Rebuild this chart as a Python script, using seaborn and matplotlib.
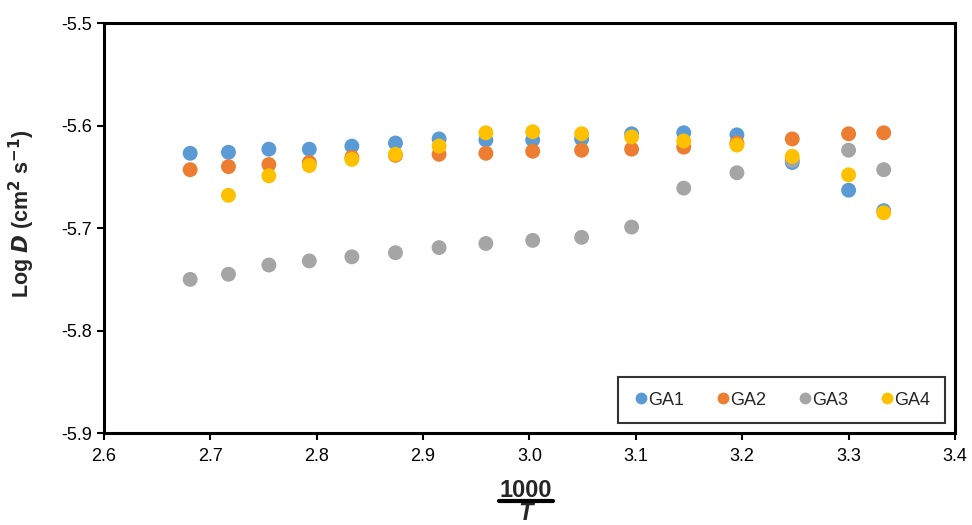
import numpy as np
import pandas as pd
import matplotlib
matplotlib.use("Agg")
import matplotlib.pyplot as plt
import seaborn as sns
from matplotlib.lines import Line2D

# ---- data ----
x_all = [2.681, 2.717, 2.755, 2.793, 2.833, 2.874, 2.915, 2.959, 3.003,
         3.049, 3.096, 3.145, 3.195, 3.247, 3.300, 3.333]
x_ga4 = x_all[1:]

ga1 = [-5.627, -5.626, -5.623, -5.623, -5.620, -5.617, -5.613, -5.614, -5.614,
       -5.613, -5.608, -5.607, -5.609, -5.636, -5.663, -5.683]
ga2 = [-5.643, -5.640, -5.638, -5.636, -5.631, -5.629, -5.628, -5.627, -5.625,
       -5.624, -5.623, -5.621, -5.617, -5.613, -5.608, -5.607]
ga3 = [-5.750, -5.745, -5.736, -5.732, -5.728, -5.724, -5.719, -5.715, -5.712,
       -5.709, -5.699, -5.661, -5.646, -5.634, -5.624, -5.643]
ga4 = [-5.668, -5.649, -5.639, -5.633, -5.628, -5.620, -5.607, -5.606, -5.608,
       -5.611, -5.615, -5.619, -5.630, -5.648, -5.685]

series_names = ["GA1", "GA2", "GA3", "GA4"]
colors = ["#5B9BD5", "#ED7D31", "#A5A5A5", "#FFC000"]
xticks = [2.6, 2.7, 2.8, 2.9, 3.0, 3.1, 3.2, 3.3, 3.4]
yticks = [-5.9, -5.8, -5.7, -5.6, -5.5]

frames = []
for name, xs, ys in zip(series_names, [x_all, x_all, x_all, x_ga4], [ga1, ga2, ga3, ga4]):
    frames.append(pd.DataFrame({"x": xs, "y": ys, "series": name}))
df = pd.concat(frames, ignore_index=True)

sns.set_style("white")
plt.rcParams["font.family"] = ["Liberation Sans", "DejaVu Sans"]

fig = plt.figure(figsize=(9.72, 5.25), dpi=100)
ax = fig.add_axes([0.107, 0.175, 0.8755, 0.781])

sns.scatterplot(data=df, x="x", y="y", hue="series", palette=colors,
                hue_order=series_names, s=115, linewidth=0, ax=ax, legend=False)

ax.set_xlim(2.6, 3.4)
ax.set_ylim(-5.9, -5.5)
ax.set_xticks(xticks)
ax.set_xticklabels([f"{v:.1f}" for v in xticks])
ax.set_yticks(yticks)
ax.set_yticklabels([f"{v:.1f}" for v in yticks])
ax.tick_params(axis="both", direction="out", length=5, width=1.5, color="black",
               labelsize=13, labelcolor="black", bottom=True, left=True)
ax.tick_params(axis="x", pad=6)
for sp in ax.spines.values():
    sp.set_visible(True)
    sp.set_color("black")
    sp.set_linewidth(2.2)

ax.set_xlabel("")
ax.set_ylabel(r"Log $\boldsymbol{D}$ (cm$^{\mathbf{2}}$ s$^{\mathbf{-1}}$)",
              fontsize=15.5, fontweight="bold")
ax.yaxis.set_label_coords(-0.079, 0.534)

# fraction x label
fig.text(526 / 972, 1 - 497 / 525, "1000", ha="center", va="baseline",
         fontsize=17, fontweight="bold")
fig.add_artist(Line2D([499 / 972, 553 / 972], [1 - 500.5 / 525, 1 - 500.5 / 525],
                      color="black", lw=3, transform=fig.transFigure))
fig.text(526 / 972, 1 - 524.5 / 525, "T", ha="center", va="bottom",
         fontsize=17, fontweight="bold", fontstyle="italic")

handles = [Line2D([], [], marker="o", linestyle="", markersize=8.5,
                  markerfacecolor=c, markeredgewidth=0) for c in colors]
leg = ax.legend(handles, series_names, ncol=4, loc="lower right", fontsize=13,
                frameon=True, fancybox=False, edgecolor="black",
                handletextpad=-0.1, columnspacing=1.65, borderaxespad=0.55,
                borderpad=0.8, handlelength=1.0)
leg.get_frame().set_linewidth(1.5)

fig.savefig("out.png", dpi=100)
